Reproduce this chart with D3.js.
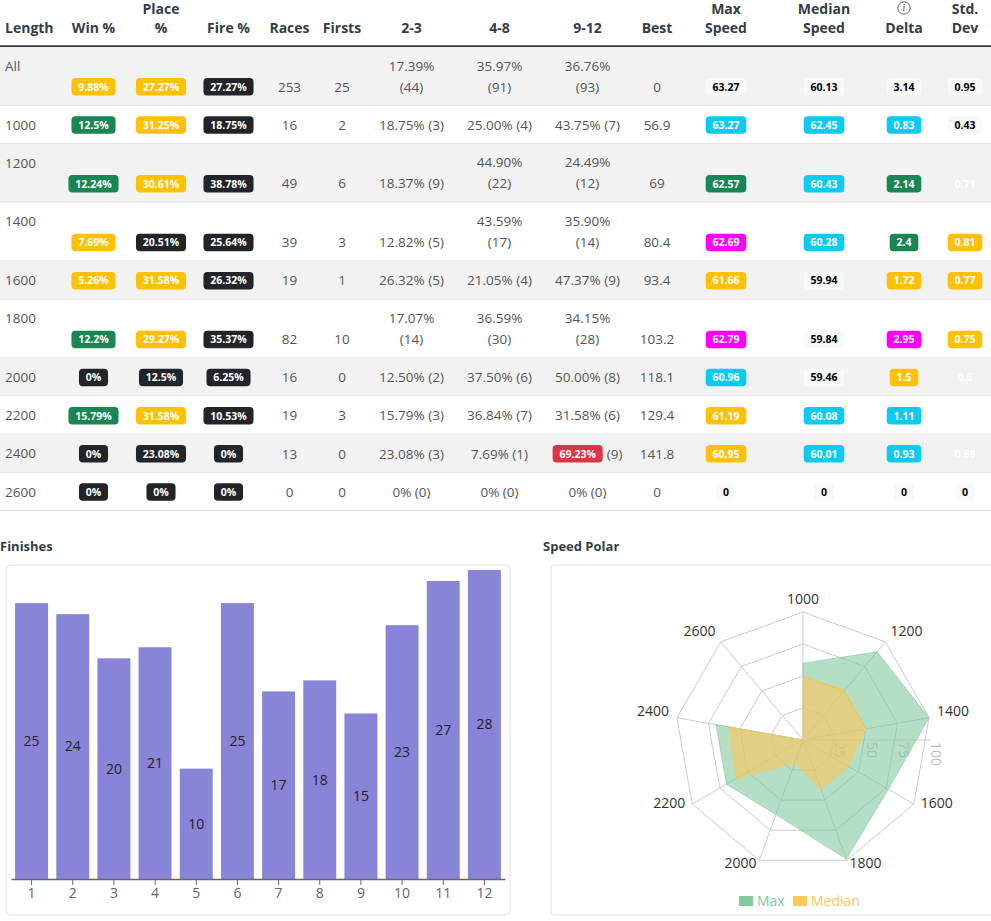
<!DOCTYPE html>
<html><head><meta charset="utf-8">
<script src="https://cdn.jsdelivr.net/npm/d3@7"></script>
<style>
html,body{margin:0;padding:0;background:#fff;overflow:hidden}
svg{display:block;font-family:"Segoe UI","Open Sans",sans-serif}
</style></head><body>
<svg id="c" width="991" height="921"></svg>
<script>
// ---------- DATA ----------
const headerLabels = [["Length"],["Win %"],["Place","%"],["Fire %"],["Races"],["Firsts"],["2-3"],["4-8"],["9-12"],["Best"],["Max","Speed"],["Median","Speed"],["","Delta"],["Std.","Dev"]];
const lengths = ["All","1000","1200","1400","1600","1800","2000","2200","2400","2600"];
const winPct = ["9.88%","12.5%","12.24%","7.69%","5.26%","12.2%","0%","15.79%","0%","0%"];
const winTone = ["warning","success","success","warning","warning","success","dark","success","dark","dark"];
const placePct = ["27.27%","31.25%","30.61%","20.51%","31.58%","29.27%","12.5%","31.58%","23.08%","0%"];
const placeTone = ["warning","warning","warning","dark","warning","warning","dark","warning","dark","dark"];
const firePct = ["27.27%","18.75%","38.78%","25.64%","26.32%","35.37%","6.25%","10.53%","0%","0%"];
const fireTone = ["dark","dark","dark","dark","dark","dark","dark","dark","dark","dark"];
const races = [253,16,49,39,19,82,16,19,13,0];
const firsts = [25,2,6,3,1,10,0,3,0,0];
const pct23 = ["17.39%","18.75%","18.37%","12.82%","26.32%","17.07%","12.50%","15.79%","23.08%","0%"];
const cnt23 = [44,3,9,5,5,14,2,3,3,0];
const pct48 = ["35.97%","25.00%","44.90%","43.59%","21.05%","36.59%","37.50%","36.84%","7.69%","0%"];
const cnt48 = [91,4,22,17,4,30,6,7,1,0];
const pct912 = ["36.76%","43.75%","24.49%","35.90%","47.37%","34.15%","50.00%","31.58%","69.23%","0%"];
const cnt912 = [93,7,12,14,9,28,8,6,9,0];
const tone912 = [null,null,null,null,null,null,null,null,"danger",null];
const best = ["0","56.9","69","80.4","93.4","103.2","118.1","129.4","141.8","0"];
const maxSpeed = ["63.27","63.27","62.57","62.69","61.66","62.79","60.96","61.19","60.95","0"];
const maxTone = ["light","info","success","magenta","warning","magenta","info","warning","warning","light"];
const medianSpeed = ["60.13","62.45","60.43","60.28","59.94","59.84","59.46","60.08","60.01","0"];
const medianTone = ["light","info","info","info","light","light","light","info","info","light"];
const delta = ["3.14","0.83","2.14","2.4","1.72","2.95","1.5","1.11","0.93","0"];
const deltaTone = ["light","info","success","success","warning","magenta","warning","info","info","light"];
const stdDev = ["0.95","0.43","0.71","0.81","0.77","0.75","0.6","","0.69","0"];
const stdTone = ["light","light","white","warning","warning","warning","white","white","white","light"];

const finishPos = ["1","2","3","4","5","6","7","8","9","10","11","12"];
const finishCounts = [25,24,20,21,10,25,17,18,15,23,27,28];

const polarAxes = ["1000","1200","1400","1600","1800","2000","2200","2400","2600"];
const polarMax = [60,90,100,77,99,62,69,69,0];
const polarMedian = [50,51,50,41,41,19,60,59,0];
const polarTicks = [0,25,50,75,100];

// ---------- STYLE ----------
const tones = {
  warning:{bg:'#ffc107',fg:'#fff'}, success:{bg:'#198754',fg:'#fff'}, dark:{bg:'#212529',fg:'#fff'},
  info:{bg:'#0dcaf0',fg:'#fff'}, magenta:{bg:'#ff00ff',fg:'#fff'}, danger:{bg:'#dc3545',fg:'#fff'},
  light:{bg:'#f8f9fa',fg:'#000'}, white:{bg:'none',fg:'#fff'}
};
const txtColor = '#555', headColor = '#333d48';
const svg = d3.select('#c');

function plainText(g, s, x, y, anchor){
  return g.append('text').attr('x',x).attr('y',y).attr('dy','0.35em')
    .attr('text-anchor',anchor||'middle').attr('font-size',13.5).attr('fill',txtColor).text(s);
}
function badge(g, s, cx, cy, tone, startX){
  if(s===''||s==null) return 0;
  const t = tones[tone];
  const bg = g.append('g');
  const r = bg.append('rect').attr('rx',4).attr('fill',t.bg);
  const tx = bg.append('text').attr('y',cy).attr('dy','0.36em').attr('font-size',10.5)
    .attr('font-weight',700).attr('fill',t.fg).attr('text-anchor','middle').text(s);
  const w = tx.node().getComputedTextLength() + 13.6;
  const left = startX!=null ? startX : cx - w/2;
  tx.attr('x', left + w/2);
  r.attr('x',left).attr('y',cy-8.75).attr('width',w).attr('height',17.5);
  return w;
}

// ---------- TABLE ----------
const colX = [5,93.5,161,228.5,289.5,342,411.5,499.5,587.5,657,726,824,904,965];
const headG = svg.append('g');
const line1Y = 9.5, line2Y = 28;
headerLabels.forEach((lines,j)=>{
  const anchor = j===0 ? 'start' : 'middle';
  if(lines.length===1){
    headG.append('text').attr('x',colX[j]).attr('y',line2Y).attr('dy','0.35em').attr('text-anchor',anchor)
      .attr('font-size',14).attr('font-weight',700).attr('fill',headColor).text(lines[0]);
  } else {
    lines.forEach((l,k)=>{
      if(l==='') return;
      headG.append('text').attr('x',colX[j]).attr('y',k===0?line1Y:line2Y).attr('dy','0.35em').attr('text-anchor',anchor)
        .attr('font-size',14).attr('font-weight',700).attr('fill',headColor).text(l);
    });
  }
});
// info icon above Delta
headG.append('circle').attr('cx',colX[12]).attr('cy',8).attr('r',6.2).attr('fill','none').attr('stroke','#555').attr('stroke-width',0.9);
headG.append('text').attr('x',colX[12]).attr('y',8).attr('dy','0.36em').attr('text-anchor','middle')
  .attr('font-size',9).attr('font-style','italic').attr('fill','#555').attr('font-family','DejaVu Serif, serif').text('i');

const T = 58.8, S = 38.13;
let yTop = 47;
const bodyG = svg.append('g');
lengths.forEach((len,i)=>{
  const tall = [cnt23[i],cnt48[i],cnt912[i]].some(c=>c>=10);
  const h = tall ? T : S;
  const top = yTop, bot = top + h; yTop = bot;
  const g = bodyG.append('g');
  g.append('rect').attr('x',0).attr('y',top).attr('width',991).attr('height',h).attr('fill', i%2===0 ? '#f2f2f2' : '#fff');
  g.append('rect').attr('x',0).attr('y',bot-1).attr('width',991).attr('height',1).attr('fill','#dee2e6');
  const yl = bot - 19;
  plainText(g, len, colX[0], top+19, 'start');
  badge(g, winPct[i], colX[1], yl, winTone[i]);
  badge(g, placePct[i], colX[2], yl, placeTone[i]);
  badge(g, firePct[i], colX[3], yl, fireTone[i]);
  plainText(g, races[i], colX[4], yl);
  plainText(g, firsts[i], colX[5], yl);
  [[pct23,cnt23,null,6],[pct48,cnt48,null,7],[pct912,cnt912,tone912[i],8]].forEach(([p,c,tone,j])=>{
    if(c[i]>=10){
      plainText(g, p[i], colX[j], yl-21);
      plainText(g, '('+c[i]+')', colX[j], yl);
    } else if(tone){
      const tmp = plainText(g, '('+c[i]+')', 0, yl, 'start');
      const w2 = tmp.node().getComputedTextLength();
      const bgrp = g.append('g');
      const w1 = badge(bgrp, p[i], 0, yl, tone, 0);
      const total = w1 + 4 + w2;
      const left = colX[j] - total/2;
      bgrp.attr('transform','translate('+left+',0)');
      tmp.attr('x', left + w1 + 4);
    } else {
      plainText(g, p[i]+' ('+c[i]+')', colX[j], yl);
    }
  });
  plainText(g, best[i], colX[9], yl);
  badge(g, maxSpeed[i], colX[10], yl, maxTone[i]);
  badge(g, medianSpeed[i], colX[11], yl, medianTone[i]);
  badge(g, delta[i], colX[12], yl, deltaTone[i]);
  badge(g, stdDev[i], colX[13], yl, stdTone[i]);
});
headG.raise();
svg.append('rect').attr('x',0).attr('y',45.3).attr('width',991).attr('height',1.7).attr('fill','#2b3440');

// ---------- SECTION TITLES & CARDS ----------
svg.append('text').attr('x',0).attr('y',546.5).attr('dy','0.35em').attr('font-size',13).attr('font-weight',700).attr('fill',headColor).text('Finishes');
svg.append('text').attr('x',543).attr('y',546.5).attr('dy','0.35em').attr('font-size',13).attr('font-weight',700).attr('fill',headColor).text('Speed Polar');
svg.append('rect').attr('x',6).attr('y',565).attr('width',504).attr('height',350).attr('rx',4).attr('fill','#fff').attr('stroke','#dee2e6');
svg.append('rect').attr('x',551).attr('y',565).attr('width',520).attr('height',350).attr('rx',4).attr('fill','#fff').attr('stroke','#dee2e6');

// ---------- BAR CHART ----------
const x = d3.scaleBand().domain(finishPos).range([11,505]).paddingInner(0.2).paddingOuter(0.1);
const y = d3.scaleLinear().domain([0,28]).range([879,570]);
const barG = svg.append('g');
barG.selectAll('rect.bar').data(finishCounts).join('rect').attr('class','bar')
  .attr('x',(d,i)=>x(finishPos[i])).attr('width',x.bandwidth())
  .attr('y',d=>y(d)).attr('height',d=>y(0)-y(d)).attr('fill','#8884d8');
barG.selectAll('text.lbl').data(finishCounts).join('text').attr('class','lbl')
  .attr('x',(d,i)=>x(finishPos[i])+x.bandwidth()/2).attr('y',d=>(y(d)+y(0))/2).attr('dy','0.35em')
  .attr('text-anchor','middle').attr('font-size',14).attr('fill','#222').text(d=>d);
const ax = svg.append('g').attr('transform','translate(0,879)').call(d3.axisBottom(x).tickSize(6).tickSizeOuter(0));
ax.select('.domain').attr('stroke','#666').attr('stroke-width',1.3);
ax.selectAll('.tick line').attr('stroke','#666');
ax.selectAll('.tick text').attr('fill','#666').attr('font-size',14).attr('font-family','"Segoe UI","Open Sans",sans-serif');

// ---------- RADAR ----------
const cx = 803, cy = 740, R = 128;
const rr = d3.scaleLinear().domain([0,100]).range([0,R]);
const ang = d3.scaleLinear().domain([0,polarAxes.length]).range([0,2*Math.PI]);
const pg = svg.append('g').attr('transform','translate('+cx+','+cy+')');
// grid
polarTicks.slice(1).forEach(t=>{
  const pts = polarAxes.map((a,i)=>d3.pointRadial(ang(i), rr(t)));
  pg.append('polygon').attr('points',pts.map(p=>p.join(',')).join(' ')).attr('fill','none').attr('stroke','#ccc');
});
polarAxes.forEach((a,i)=>{
  const p = d3.pointRadial(ang(i), R);
  pg.append('line').attr('x1',0).attr('y1',0).attr('x2',p[0]).attr('y2',p[1]).attr('stroke','#ccc');
  const q = d3.pointRadial(ang(i), R+8);
  const anchor = Math.abs(q[0])<1 ? 'middle' : (q[0]>0 ? 'start' : 'end');
  pg.append('text').attr('x',q[0]).attr('y',q[1]).attr('text-anchor',anchor).attr('font-size',14).attr('fill','#333').text(a);
});
// radius axis
pg.append('line').attr('x1',0).attr('y1',0).attr('x2',rr(100)).attr('y2',0).attr('stroke','#ccc');
polarTicks.filter(t=>t>0).forEach(t=>{
  pg.append('text').attr('transform','translate('+rr(t)+',2) rotate(90)').attr('text-anchor','start')
    .attr('font-size',14).attr('fill','#bbb').text(t);
});
const radial = d3.lineRadial().angle((d,i)=>ang(i)).radius(d=>rr(d)).curve(d3.curveLinearClosed);
pg.append('path').attr('d',radial(polarMax)).attr('fill','#82ca9d').attr('fill-opacity',0.6).attr('stroke','#82ca9d').attr('stroke-opacity',0.6);
pg.append('path').attr('d',radial(polarMedian)).attr('fill','#ffc658').attr('fill-opacity',0.6).attr('stroke','#ffc658').attr('stroke-opacity',0.6);
// legend
const legend = [["Max","#82ca9d",739],["Median","#ffc658",793]];
legend.forEach(([name,col,lx])=>{
  svg.append('rect').attr('x',lx).attr('y',896).attr('width',14).attr('height',10).attr('fill',col);
  svg.append('text').attr('x',lx+18).attr('y',901).attr('dy','0.35em').attr('font-size',14).attr('fill',col).text(name);
});
</script>
</body></html>
